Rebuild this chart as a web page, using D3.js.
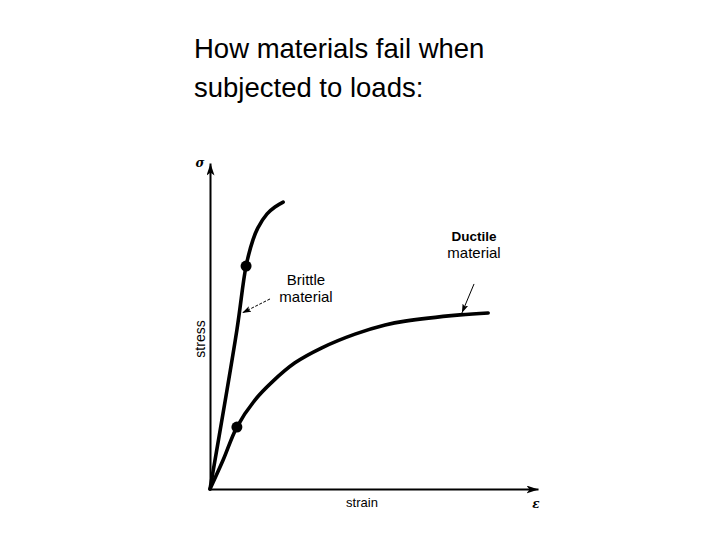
<!DOCTYPE html>
<html>
<head>
<meta charset="utf-8">
<script src="https://cdn.jsdelivr.net/npm/d3@7"></script>
<style>
  body { margin: 0; background: #fff; }
  svg { display: block; }
</style>
</head>
<body>
<div id="chart"></div>
<script>
// title lines
const titleLines = ["How materials fail when", "subjected to loads:"];

// curves (strain, stress in arbitrary units 0..10)
const brittleStrain = [0, 0.82, 1.10, 1.31, 1.46, 1.74, 1.98, 2.23];
const brittleStress = [0, 4.88, 6.84, 7.64, 8.01, 8.44, 8.65, 8.80];
const ductileStrain = [0, 0.40, 0.82, 1.37, 1.89, 2.59, 3.41, 4.42, 5.34, 5.95, 7.62, 8.48];
const ductileStress = [0, 0.89, 1.90, 2.73, 3.28, 3.87, 4.33, 4.75, 5.03, 5.15, 5.34, 5.40];

// marked points (yield / proportional limit)
const dotStrain = [1.10, 0.82];
const dotStress = [6.84, 1.90];

const w = 720, h = 540;
const origin = {x: 210, y: 489};

const svg = d3.select("#chart").append("svg")
    .attr("width", w)
    .attr("height", h);

const x = d3.scaleLinear().domain([0, 10]).range([origin.x, 538]);
const y = d3.scaleLinear().domain([0, 10]).range([origin.y, 163]);

const defs = svg.append("defs");
defs.append("marker")
    .attr("id", "axisHead")
    .attr("viewBox", "0 0 12 8")
    .attr("refX", 12).attr("refY", 4)
    .attr("markerWidth", 12).attr("markerHeight", 8)
    .attr("markerUnits", "userSpaceOnUse")
    .attr("orient", "auto")
    .append("path").attr("d", "M0,0L12,4L0,8L3,4Z").attr("fill", "#000");
defs.append("marker")
    .attr("id", "noteHead")
    .attr("viewBox", "0 0 9 6")
    .attr("refX", 9).attr("refY", 3)
    .attr("markerWidth", 9).attr("markerHeight", 6)
    .attr("markerUnits", "userSpaceOnUse")
    .attr("orient", "auto")
    .append("path").attr("d", "M0,0L9,3L0,6L2,3Z").attr("fill", "#000");

// title
svg.append("text")
    .attr("x", 194).attr("y", 58)
    .style("font-family", "'Liberation Sans', Arial, sans-serif")
    .style("font-size", "27.5px")
    .selectAll("tspan")
    .data(titleLines)
    .enter().append("tspan")
    .attr("x", 194)
    .attr("dy", (d, i) => i ? 39 : 0)
    .text(d => d);

// axes
const xAxis = svg.append("g")
    .attr("transform", "translate(0," + origin.y + ")")
    .call(d3.axisBottom(x).tickValues([]).tickSizeOuter(0));
const yAxis = svg.append("g")
    .attr("transform", "translate(" + origin.x + ",0)")
    .call(d3.axisLeft(y).tickValues([]).tickSizeOuter(0));
xAxis.select(".domain").attr("stroke-width", 2).attr("marker-end", "url(#axisHead)");
yAxis.select(".domain").attr("stroke-width", 2).attr("marker-end", "url(#axisHead)");

// curves
const line = d3.line()
    .x(d => x(d[0]))
    .y(d => y(d[1]))
    .curve(d3.curveCatmullRom.alpha(0.5));

const series = [
  d3.zip(brittleStrain, brittleStress),
  d3.zip(ductileStrain, ductileStress)
];

svg.selectAll(".curve")
    .data(series)
    .enter().append("path")
    .attr("class", "curve")
    .attr("d", line)
    .attr("fill", "none")
    .attr("stroke", "#000")
    .attr("stroke-width", 3.6)
    .attr("stroke-linecap", "round");

svg.selectAll(".dot")
    .data(d3.zip(dotStrain, dotStress))
    .enter().append("circle")
    .attr("class", "dot")
    .attr("cx", d => x(d[0]))
    .attr("cy", d => y(d[1]))
    .attr("r", 5.5)
    .attr("fill", "#000");

// annotation arrows
svg.append("line")
    .attr("x1", x(1.83)).attr("y1", y(5.83))
    .attr("x2", x(0.98)).attr("y2", y(5.40))
    .attr("stroke", "#000").attr("stroke-width", 1)
    .attr("stroke-dasharray", "3,1.5")
    .attr("marker-end", "url(#noteHead)");
svg.append("line")
    .attr("x1", x(8.05)).attr("y1", y(6.29))
    .attr("x2", x(7.68)).attr("y2", y(5.40))
    .attr("stroke", "#000").attr("stroke-width", 1)
    .attr("marker-end", "url(#noteHead)");

const labelFont = "'Liberation Sans', Arial, sans-serif";

function label(px, py, lines, weights, sizes) {
  const t = svg.append("text")
      .attr("text-anchor", "middle")
      .style("font-family", labelFont);
  lines.forEach((s, i) => {
    t.append("tspan")
        .attr("x", px)
        .attr("y", py + i * 17)
        .style("font-weight", weights[i])
        .style("font-size", sizes[i])
        .text(s);
  });
}
label(306, 285, ["Brittle", "material"], ["normal", "normal"], ["15px", "15px"]);
label(474, 241, ["Ductile", "material"], ["bold", "normal"], ["13.5px", "15px"]);

// axis names
svg.append("text")
    .attr("transform", "translate(205,339) rotate(-90)")
    .attr("text-anchor", "middle")
    .style("font-family", labelFont)
    .style("font-size", "14px")
    .text("stress");
svg.append("text")
    .attr("x", 362).attr("y", 507)
    .attr("text-anchor", "middle")
    .style("font-family", labelFont)
    .style("font-size", "13px")
    .text("strain");
svg.append("text")
    .attr("x", 200).attr("y", 167)
    .attr("text-anchor", "middle")
    .style("font-family", "'DejaVu Serif', serif")
    .style("font-style", "italic")
    .style("font-weight", "bold")
    .style("font-size", "12px")
    .text("σ");
svg.append("text")
    .attr("x", 536).attr("y", 508)
    .attr("text-anchor", "middle")
    .style("font-family", "'DejaVu Serif', serif")
    .style("font-style", "italic")
    .style("font-weight", "bold")
    .style("font-size", "12px")
    .text("ε");
</script>
</body>
</html>
